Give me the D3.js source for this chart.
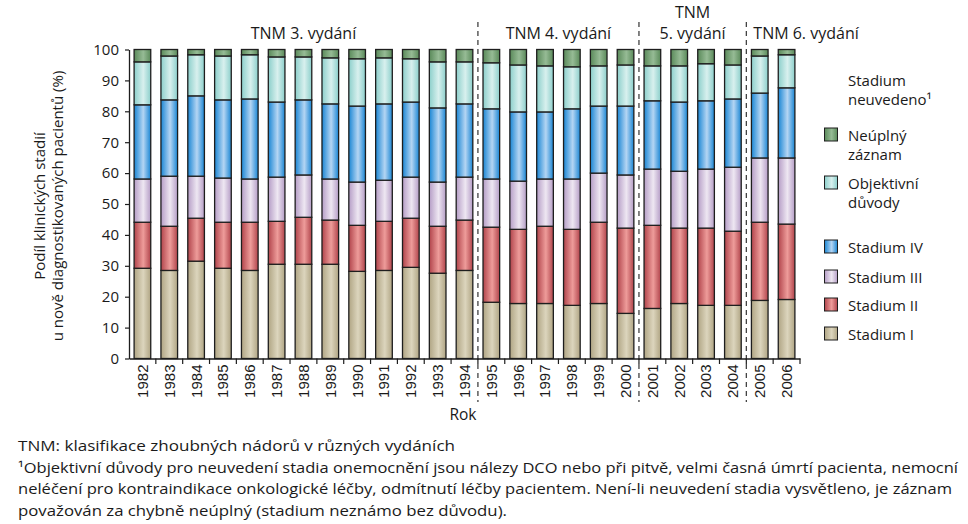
<!DOCTYPE html>
<html><head><meta charset="utf-8">
<script src="https://cdn.jsdelivr.net/npm/d3@7"></script>
<style>html,body{margin:0;padding:0;background:#fff;} svg{display:block;font-family:"Open Sans","Noto Sans",sans-serif;}</style>
</head><body>
<svg id="c" width="968" height="524"></svg>
<script>
const years = ["1982","1983","1984","1985","1986","1987","1988","1989","1990","1991","1992","1993","1994","1995","1996","1997","1998","1999","2000","2001","2002","2003","2004","2005","2006"];
const stadiumI   = [29.2,28.5,31.5,29.2,28.5,30.5,30.5,30.5,28.2,28.5,29.5,27.6,28.5,18.2,17.8,17.8,17.2,17.8,14.6,16.2,17.8,17.2,17.2,18.8,19.1];
const stadiumII  = [14.9,14.3,13.9,14.9,15.6,13.9,15.2,14.3,14.9,15.9,15.9,15.2,16.3,24.3,24.0,25.0,24.6,26.3,27.6,26.9,24.4,25.0,24.0,25.3,24.4];
const stadiumIII = [14.0,16.2,13.6,14.3,14.0,14.3,13.7,13.3,14.0,13.3,13.3,14.3,13.9,15.6,15.6,15.3,16.3,15.9,17.2,18.2,18.4,19.1,20.7,20.8,21.4];
const stadiumIV  = [24.0,24.7,26.0,25.3,25.9,24.3,24.3,24.3,24.6,24.7,24.3,24.0,23.7,22.7,22.4,21.7,22.7,21.7,22.3,22.1,22.4,22.1,22.1,21.0,22.7];
const objektivni = [13.9,14.2,13.3,14.2,14.3,14.6,13.9,14.9,15.3,14.9,14.0,14.9,13.6,14.9,15.2,14.9,13.6,13.0,13.3,11.3,11.7,12.0,11.0,12.0,10.7];
const neuplny    = [4.0,2.1,1.7,2.1,1.7,2.4,2.4,2.7,3.0,2.7,3.0,4.0,4.0,4.3,5.0,5.3,5.6,5.3,5.0,5.3,5.3,4.6,5.0,2.1,1.7];
const yTicks = [0,10,20,30,40,50,60,70,80,90,100];
const seriesKeys = ["I","II","III","IV","Obj","N"];
const seriesValues = [stadiumI, stadiumII, stadiumIII, stadiumIV, objektivni, neuplny];
const legendTitle = ["Stadium","neuvedeno¹"];
const legendLabels = [["Neúplný","záznam"],["Objektivní","důvody"],["Stadium IV"],["Stadium III"],["Stadium II"],["Stadium I"]];
const editions = [
  {lines:["TNM 3. vydání"], from:"1982", to:"1994"},
  {lines:["TNM 4. vydání"], from:"1995", to:"2000"},
  {lines:["TNM","5. vydání"], from:"2001", to:"2004"},
  {lines:["TNM 6. vydání"], from:"2005", to:"2006"}
];
const dividers = ["1995","2001","2005"];
const footnotes = [
  "TNM: klasifikace zhoubných nádorů v různých vydáních",
  "¹Objektivní důvody pro neuvedení stadia onemocnění jsou nálezy DCO nebo při pitvě, velmi časná úmrtí pacienta, nemocní",
  "neléčení pro kontraindikace onkologické léčby, odmítnutí léčby pacientem. Není-li neuvedení stadia vysvětleno, je záznam",
  "považován za chybně neúplný (stadium neznámo bez důvodu)."
];

const colors = {
  I:["#b0a584","#dcd5bd"], II:["#b1444b","#ee9c9a"], III:["#b59dc6","#eee7f2"],
  IV:["#1a86d4","#b4d5f3"], Obj:["#8ccfcb","#d8f0ee"], N:["#5a8a5a","#96bb95"]
};

const svg = d3.select("#c");
const defs = svg.append("defs");
Object.entries(colors).forEach(([k,[d,l]])=>{
  const g = defs.append("linearGradient").attr("id","g"+k).attr("x1","0").attr("x2","1").attr("y1","0").attr("y2","0");
  g.append("stop").attr("offset","0").attr("stop-color",d);
  g.append("stop").attr("offset","0.55").attr("stop-color",l);
  g.append("stop").attr("offset","1").attr("stop-color",d);
});

const x = d3.scaleBand().domain(years).range([129,800]).paddingInner(0.38).paddingOuter(0.19);
const y = d3.scaleLinear().domain([0,100]).range([358.5,49.5]);
const txt = "#1a1a1a";

const rows = years.map((yr,i)=>{const o={year:yr}; seriesKeys.forEach((k,j)=>o[k]=seriesValues[j][i]); return o;});
const stack = d3.stack().keys(seriesKeys)(rows);

const step = x.step();
dividers.forEach(d=>{
  const xx = x(d) - x.paddingInner()*step/2;
  svg.append("line").attr("x1",xx).attr("x2",xx).attr("y1",22).attr("y2",402)
    .attr("stroke","#333").attr("stroke-width",1.2).attr("stroke-dasharray","5,4");
});

stack.forEach(s=>{
  svg.append("g").selectAll("rect").data(s).join("rect")
    .attr("x",d=>x(d.data.year)).attr("width",x.bandwidth())
    .attr("y",d=>y(Math.min(d[1],100))).attr("height",d=>y(d[0])-y(Math.min(d[1],100)))
    .attr("fill","url(#g"+s.key+")").attr("stroke","#1e1e1e").attr("stroke-width",1.3);
});

const ya = svg.append("g").attr("transform","translate(129,0)")
  .call(d3.axisLeft(y).tickValues(yTicks).tickSize(4).tickPadding(6).tickSizeOuter(0));
ya.select(".domain").attr("stroke","#1e1e1e").attr("stroke-width",1.3);
ya.selectAll(".tick line").attr("stroke","#1e1e1e").attr("stroke-width",1.2);
ya.selectAll("text").attr("font-size",15).attr("fill",txt).attr("font-family","'Open Sans',sans-serif");

const xa = svg.append("g").attr("transform","translate(0,358.5)")
  .call(d3.axisBottom(x).tickSize(0).tickPadding(0));
xa.select(".domain").attr("stroke","#1e1e1e").attr("stroke-width",1.3);
xa.selectAll(".tick text").attr("font-size",15).attr("fill",txt)
  .attr("text-anchor","end").attr("transform","rotate(-90)").attr("x",-6).attr("y",0).attr("dy","0.36em");
const bounds = years.map(yr=>x(yr)+x.bandwidth()+x.paddingInner()*step/2).slice(0,-1);
bounds.push(800);
svg.append("g").selectAll("line").data(bounds).join("line")
  .attr("x1",d=>d).attr("x2",d=>d).attr("y1",358.5).attr("y2",364).attr("stroke","#1e1e1e").attr("stroke-width",1.2);

svg.append("text").attr("x",463).attr("y",420).attr("text-anchor","middle").attr("font-size",15.5).attr("fill",txt).text("Rok");
["Podíl klinických stadií","u nově diagnostikovaných pacientů (%)"].forEach((l,j)=>{
  svg.append("text").attr("transform",`translate(${45+j*18},206) rotate(-90)`).attr("text-anchor","middle")
    .attr("font-size",15).attr("fill",txt).text(l);
});

editions.forEach((e,i)=>{
  const x0 = x(e.from) - x.paddingInner()*step/2, x1 = x(e.to)+x.bandwidth()+x.paddingInner()*step/2;
  const last = i===editions.length-1;
  const xx = last ? x0+7 : (x0+x1)/2;
  e.lines.forEach((l,j)=>{
    svg.append("text").attr("font-size",16).attr("fill",txt).attr("text-anchor", last?"start":"middle")
      .attr("x",xx).attr("y",39 - (e.lines.length-1-j)*21).text(l);
  });
});

const lg = svg.append("g");
legendTitle.forEach((l,j)=>lg.append("text").attr("font-size",15).attr("fill",txt).attr("x",848).attr("y",86+j*19).text(l));
const legendKeys = ["N","Obj","IV","III","II","I"];
const legendY = [141,189,253,283,311,340];
legendKeys.forEach((k,i)=>{
  const by = legendY[i];
  lg.append("rect").attr("x",824.5).attr("y",by-13).attr("width",13).attr("height",13)
    .attr("fill","url(#g"+k+")").attr("stroke","#1e1e1e").attr("stroke-width",1);
  legendLabels[i].forEach((l,j)=>lg.append("text").attr("font-size",15).attr("fill",txt)
    .attr("x",848).attr("y",by+j*19).text(l));
});

const fnW = [437,940,934,489];
footnotes.forEach((f,i)=>{
  svg.append("text").attr("x",18).attr("y",451+i*21.5).attr("font-size",14.5).attr("fill",txt)
    .attr("textLength",fnW[i]).attr("lengthAdjust","spacingAndGlyphs").text(f);
});
</script>
</body></html>
